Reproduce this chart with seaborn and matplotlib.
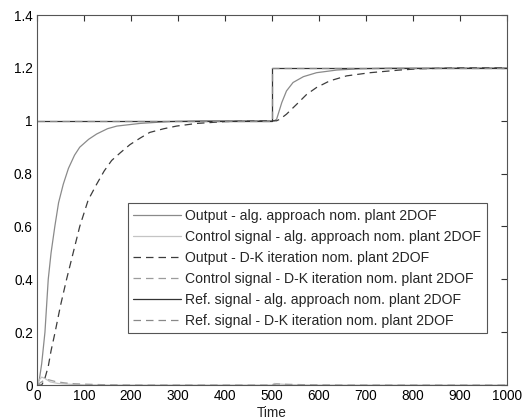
import matplotlib
matplotlib.use("Agg")
import matplotlib.pyplot as plt
import seaborn as sns
import pandas as pd

sns.set_theme(style="white")
plt.rcParams['font.family'] = ['Liberation Sans', 'DejaVu Sans']

# ---- data ----
out_alg_t = [0, 5, 10, 17, 24, 30, 38, 46, 56, 67, 80, 91, 110, 127, 150, 170, 219, 280, 350, 500,
             505, 510, 521, 531, 545, 567, 595, 638, 687, 750, 1000]
out_alg_y = [0, 0.02, 0.08, 0.2, 0.4, 0.5, 0.6, 0.69, 0.76, 0.82, 0.87, 0.90, 0.93, 0.95, 0.97, 0.98,
             0.99, 0.997, 1.0, 1.0, 1.0, 1.006, 1.069, 1.113, 1.145, 1.167, 1.182, 1.192, 1.197, 1.199, 1.2]

ctrl_alg_t = [0, 5, 10, 17, 28, 45, 70, 100, 150, 500, 505, 515, 540, 600, 1000]
ctrl_alg_y = [0, 0.02, 0.03, 0.025, 0.012, 0.006, 0.003, 0.001, 0, 0, 0.006, 0.004, 0.001, 0, 0]

out_dk_t = [0, 10, 16, 24, 30, 38, 50, 63, 77, 91, 109, 127, 143, 159, 178, 198, 220, 240, 270, 297,
            340, 400, 500, 510, 517, 531, 553, 574, 595, 623, 659, 709, 772, 815, 900, 1000]
out_dk_y = [0, 0, 0.02, 0.07, 0.13, 0.195, 0.3, 0.4, 0.5, 0.6, 0.7, 0.76, 0.81, 0.85, 0.88, 0.91,
            0.935, 0.956, 0.97, 0.98, 0.99, 0.997, 1.0, 1.0, 1.006, 1.025, 1.063, 1.10, 1.126, 1.151,
            1.17, 1.182, 1.192, 1.197, 1.2, 1.2]

ctrl_dk_t = [0, 8, 15, 25, 40, 60, 80, 110, 150, 200, 500, 510, 530, 580, 650, 1000]
ctrl_dk_y = [0, 0.01, 0.018, 0.02, 0.013, 0.008, 0.005, 0.003, 0.001, 0, 0, 0.004, 0.003, 0.001, 0, 0]

ref_t = [0, 500, 500, 1000]
ref_y = [1.0, 1.0, 1.2, 1.2]

labels = [
    "Output - alg. approach nom. plant 2DOF",
    "Control signal - alg. approach nom. plant 2DOF",
    "Output - D-K iteration nom. plant 2DOF",
    "Control signal - D-K iteration nom. plant 2DOF",
    "Ref. signal - alg. approach nom. plant 2DOF",
    "Ref. signal - D-K iteration nom. plant 2DOF",
]
series = [
    (out_alg_t, out_alg_y, "#8a8a8a", "-"),
    (ctrl_alg_t, ctrl_alg_y, "#c4c4c4", "-"),
    (out_dk_t, out_dk_y, "#3c3c3c", (0, (6, 4))),
    (ctrl_dk_t, ctrl_dk_y, "#9c9c9c", (0, (6, 4))),
    (ref_t, ref_y, "#333333", "-"),
    (ref_t, ref_y, "#888888", (0, (6, 4))),
]

fig = plt.figure(figsize=(5.28, 4.19), dpi=100)
ax = fig.add_axes([0.070, 0.081, 0.890, 0.883])

for (t, y, c, ls), lab in zip(series, labels):
    df = pd.DataFrame({"Time": t, "val": y})
    sns.lineplot(data=df, x="Time", y="val", ax=ax, sort=False, estimator=None,
                 color=c, linewidth=0.9, label=lab)
    ax.lines[-1].set_linestyle(ls)

ax.set_xlim(0, 1000)
ax.set_ylim(0, 1.4)
ax.set_xticks(range(0, 1001, 100))
ax.set_yticks([0, 0.2, 0.4, 0.6, 0.8, 1, 1.2, 1.4])
ax.set_yticklabels(["0", "0.2", "0.4", "0.6", "0.8", "1", "1.2", "1.4"])
ax.set_xlabel("Time", fontsize=9.8, labelpad=2)
ax.set_ylabel("")
ax.tick_params(direction="in", length=4, width=0.8, colors="#333333", labelsize=9.8,
               top=True, right=True, pad=3, labelcolor="black")
for s in ax.spines.values():
    s.set_color("#555555")
    s.set_linewidth(0.8)

leg = ax.legend(loc="lower right", bbox_to_anchor=(0.957, 0.14), fontsize=10.1,
                frameon=True, fancybox=False, edgecolor="#555555", framealpha=1,
                handlelength=3.4, handletextpad=0.3, labelspacing=0.5, borderpad=0.4,
                borderaxespad=0)
leg.get_frame().set_linewidth(0.8)
for h, (_, _, c, ls) in zip(leg.get_lines(), series):
    h.set_linestyle(ls)
    h.set_color(c)

fig.savefig("out.png", dpi=100)
